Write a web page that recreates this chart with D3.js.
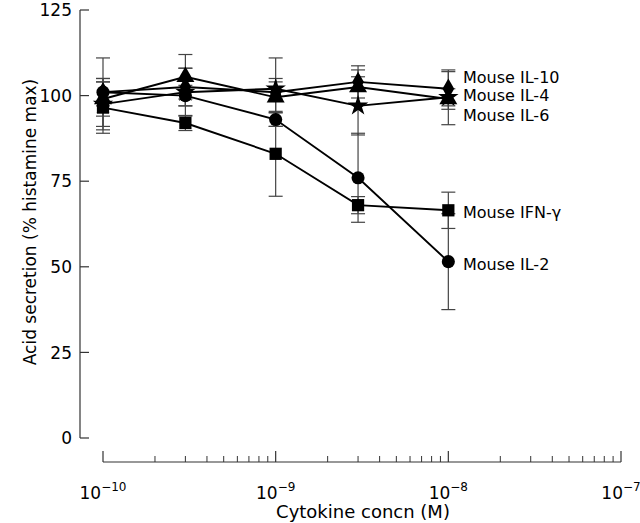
<!DOCTYPE html>
<html>
<head>
<meta charset="utf-8">
<script src="https://cdn.jsdelivr.net/npm/d3@7"></script>
<style>
  body { margin: 0; background: #fff; }
  svg { font-family: "DejaVu Sans", sans-serif; }
</style>
</head>
<body>
<svg id="chart" width="640" height="523"></svg>
<script>
// concentrations (M)
const concs = [1e-10, 3e-10, 1e-9, 3e-9, 1e-8];

const il2 = [101, 100, 93, 76, 51.5];
const il2Err = [10, 3, 2, 13, 14];
const ifn = [96.5, 92, 83, 68, 66.5];
const ifnErr = [7.5, 2.2, 12.4, 2.5, 5.3];
const il10 = [101, 102.5, 101, 104, 102];
const il10Err = [4, 5.5, 10, 4.7, 5];
const il4 = [99, 105.5, 99.5, 102.5, 99];
const il4Err = [5, 6.5, 4.5, 5, 3];
const il6 = [97.5, 101, 102, 97, 99.5];
const il6Err = [7.5, 7, 3, 8.5, 8];

const yTicks = [0, 25, 50, 75, 100, 125];
const xTicks = [-10, -9, -8, -7];

const series = [
  { name: "Mouse IL-10", values: il10, err: il10Err, symbol: d3.symbolDiamond, size: 120, dy: -12 },
  { name: "Mouse IL-4", values: il4, err: il4Err, symbol: d3.symbolTriangle, size: 140, dy: -4 },
  { name: "Mouse IL-6", values: il6, err: il6Err, symbol: d3.symbolStar, size: 130, dy: 18 },
  { name: "Mouse IFN-\u03b3", values: ifn, err: ifnErr, symbol: d3.symbolSquare, size: 150, dy: 2 },
  { name: "Mouse IL-2", values: il2, err: il2Err, symbol: d3.symbolCircle, size: 135, dy: 3 }
];

const svg = d3.select("#chart");

const x = d3.scaleLog().domain([1e-10, 1e-7]).range([103, 621]);
const y = d3.scaleLinear().domain([0, 125]).range([438, 10]);

// y axis (ticks pointing inwards)
const yAxisX = 80;
const yAxis = svg.append("g").attr("transform", "translate(" + yAxisX + ",0)");
yAxis.append("line")
  .attr("y1", y(0)).attr("y2", y(125))
  .attr("stroke", "#333").attr("stroke-width", 1.2);
yAxis.selectAll(".yt").data(yTicks).enter().append("line")
  .attr("x1", 0).attr("x2", 9)
  .attr("y1", d => y(d)).attr("y2", d => y(d))
  .attr("stroke", "#333").attr("stroke-width", 1.2);
yAxis.selectAll(".yl").data(yTicks).enter().append("text")
  .attr("x", -8).attr("y", d => y(d))
  .attr("dy", "0.36em")
  .attr("text-anchor", "end")
  .attr("font-size", 17)
  .text(d => d);

// x axis (separate, ticks pointing up)
const xAxisY = 462;
const xAxis = svg.append("g").attr("transform", "translate(0," + xAxisY + ")");
xAxis.append("line")
  .attr("x1", x(1e-10)).attr("x2", x(1e-7))
  .attr("stroke", "#333").attr("stroke-width", 1.2);
const minor = [];
for (let e = -10; e < -7; e++) {
  for (let m = 2; m <= 9; m++) minor.push(m * Math.pow(10, e));
}
xAxis.selectAll(".xm").data(minor).enter().append("line")
  .attr("x1", d => x(d)).attr("x2", d => x(d))
  .attr("y1", 0).attr("y2", -6)
  .attr("stroke", "#333").attr("stroke-width", 1);
xAxis.selectAll(".xt").data(xTicks).enter().append("line")
  .attr("x1", d => x(Math.pow(10, d))).attr("x2", d => x(Math.pow(10, d)))
  .attr("y1", 0).attr("y2", -11)
  .attr("stroke", "#333").attr("stroke-width", 1.2);
const xl = xAxis.selectAll(".xl").data(xTicks).enter().append("text")
  .attr("x", d => x(Math.pow(10, d)))
  .attr("y", 37)
  .attr("text-anchor", "middle")
  .attr("font-size", 17);
xl.append("tspan").text("10");
xl.append("tspan").attr("dy", -8).attr("font-size", 12).text(d => "\u2212" + (-d));

// axis titles
svg.append("text")
  .attr("x", 363).attr("y", 518)
  .attr("text-anchor", "middle")
  .attr("font-size", 18)
  .text("Cytokine concn (M)");
svg.append("text")
  .attr("transform", "translate(36," + 222 + ") rotate(-90)")
  .attr("text-anchor", "middle")
  .attr("font-size", 17)
  .text("Acid secretion (% histamine max)");

// error bars
const capW = 7;
series.forEach(s => {
  const g = svg.append("g");
  s.values.forEach((v, i) => {
    const cx = x(concs[i]);
    const top = y(v + s.err[i]);
    const bot = y(v - s.err[i]);
    g.append("line").attr("x1", cx).attr("x2", cx).attr("y1", top).attr("y2", bot)
      .attr("stroke", "#444").attr("stroke-width", 1.2);
    [top, bot].forEach(cy => {
      g.append("line").attr("x1", cx - capW).attr("x2", cx + capW)
        .attr("y1", cy).attr("y2", cy)
        .attr("stroke", "#444").attr("stroke-width", 1.2);
    });
  });
});

// lines
const line = d3.line().x((d, i) => x(concs[i])).y(d => y(d));
series.forEach(s => {
  svg.append("path")
    .attr("d", line(s.values))
    .attr("fill", "none")
    .attr("stroke", "#000")
    .attr("stroke-width", 1.9);
});

// markers
series.forEach(s => {
  svg.append("g").selectAll("path").data(s.values).enter().append("path")
    .attr("d", d3.symbol().type(s.symbol).size(s.size))
    .attr("transform", (d, i) => "translate(" + x(concs[i]) + "," + y(d) + ")")
    .attr("fill", "#000");
});

// series labels
svg.append("g").selectAll("text").data(series).enter().append("text")
  .attr("x", 463)
  .attr("y", d => y(d.values[d.values.length - 1]) + d.dy)
  .attr("dy", "0.36em")
  .attr("font-size", 16)
  .text(d => d.name);
</script>
</body>
</html>
